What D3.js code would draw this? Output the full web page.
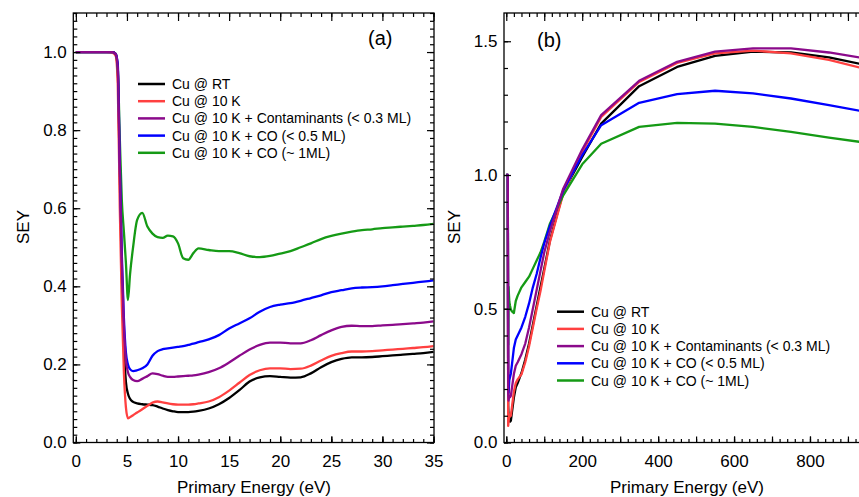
<!DOCTYPE html>
<html><head><meta charset="utf-8">
<script src="https://cdn.jsdelivr.net/npm/d3@7"></script>
<style>
body{margin:0;background:#fff;}
svg{display:block;font-family:"Liberation Sans",Arial,sans-serif;}
</style></head><body>
<svg id="chart" width="859" height="497"></svg>
<script>
// ---------- DATA ----------
const seriesNames = ["Cu @ RT", "Cu @ 10 K", "Cu @ 10 K + Contaminants (< 0.3 ML)", "Cu @ 10 K + CO (< 0.5 ML)", "Cu @ 10 K + CO (~ 1ML)"];
const seriesColors = ["#000000", "#ff4040", "#8b0a8b", "#0000ff", "#159a15"];

// Panel (a): low energy range (eV)
const energyA = [0, 1, 2, 3, 3.6, 3.9, 4.1, 4.3, 4.5, 4.7,
  4.9, 5.1, 5.3, 5.6, 6, 6.5, 7, 7.5, 8, 8.5,
  9, 9.5, 10, 10.5, 11, 11.5, 12, 13, 14, 15,
  16, 17, 18, 19, 20, 21, 22, 23, 24, 25,
  26, 27, 28, 29, 30, 31, 32, 33, 34, 35];
const cuRT_A = [1, 1, 1, 1, 1, 0.995, 0.95, 0.68, 0.43, 0.25,
  0.155, 0.125, 0.112, 0.104, 0.1, 0.098, 0.097, 0.096, 0.092, 0.087,
  0.083, 0.08, 0.078, 0.078, 0.078, 0.079, 0.081, 0.087, 0.098, 0.114,
  0.134, 0.156, 0.167, 0.17, 0.168, 0.166, 0.167, 0.177, 0.193, 0.206,
  0.214, 0.218, 0.218, 0.219, 0.221, 0.223, 0.225, 0.227, 0.229, 0.232];
const cu10K_A = [1, 1, 1, 1, 0.998, 0.99, 0.92, 0.6, 0.35, 0.18,
  0.09, 0.062, 0.065, 0.07, 0.077, 0.085, 0.094, 0.102, 0.105, 0.103,
  0.1, 0.098, 0.097, 0.097, 0.097, 0.098, 0.1, 0.105, 0.116, 0.133,
  0.153, 0.173, 0.185, 0.19, 0.19, 0.188, 0.189, 0.197, 0.21, 0.222,
  0.229, 0.233, 0.233, 0.234, 0.236, 0.238, 0.24, 0.242, 0.244, 0.247];
const cuCont_A = [1, 1, 1, 1, 1, 0.995, 0.96, 0.7, 0.46, 0.3,
  0.21, 0.18, 0.168, 0.16, 0.157, 0.163, 0.17, 0.177, 0.175, 0.171,
  0.168, 0.168, 0.169, 0.17, 0.171, 0.172, 0.174, 0.18, 0.19, 0.205,
  0.222, 0.238, 0.25, 0.256, 0.256, 0.254, 0.254, 0.262, 0.275, 0.287,
  0.296, 0.299, 0.298, 0.298, 0.3, 0.301, 0.303, 0.305, 0.307, 0.31];
const cuCO05_A = [1, 1, 1, 1, 1, 0.995, 0.97, 0.72, 0.48, 0.32,
  0.23, 0.2, 0.188, 0.183, 0.185, 0.19, 0.2, 0.222, 0.234, 0.239,
  0.241, 0.243, 0.245, 0.247, 0.25, 0.253, 0.257, 0.264, 0.275, 0.292,
  0.305, 0.318, 0.335, 0.347, 0.353, 0.357, 0.363, 0.37, 0.377, 0.385,
  0.39, 0.395, 0.397, 0.398, 0.4, 0.403, 0.406, 0.409, 0.412, 0.415];
const cuCO1_A = [1, 1, 1, 1, 1, 0.995, 0.96, 0.78, 0.62, 0.54,
  0.46, 0.365, 0.43, 0.5, 0.57, 0.588, 0.553, 0.535, 0.526, 0.524,
  0.53, 0.528, 0.51, 0.472, 0.468, 0.485, 0.497, 0.493, 0.49, 0.49,
  0.485, 0.477, 0.475, 0.478, 0.484, 0.49, 0.5, 0.51, 0.521, 0.529,
  0.535, 0.54, 0.544, 0.546, 0.549, 0.551, 0.553, 0.555, 0.557, 0.56];

// Panel (b): full energy range (eV)
const energyB = [0, 4, 5, 6, 8, 10, 12, 15, 20, 25, 30, 40, 50, 60, 70, 80, 90, 100, 115, 150,
  200, 250, 350, 450, 550, 650, 750, 850, 950];
const cuRT_B = [1, 1, 0.14, 0.1, 0.092, 0.078, 0.081, 0.114, 0.168, 0.206, 0.222, 0.26, 0.31, 0.37, 0.44, 0.51, 0.58, 0.65, 0.755, 0.936,
  1.067, 1.192, 1.332, 1.404, 1.445, 1.461, 1.458, 1.44, 1.41];
const cu10K_B = [1, 1, 0.062, 0.077, 0.105, 0.097, 0.1, 0.133, 0.19, 0.222, 0.236, 0.255, 0.3, 0.36, 0.43, 0.5, 0.565, 0.64, 0.75, 0.93,
  1.086, 1.217, 1.348, 1.419, 1.455, 1.465, 1.455, 1.43, 1.395];
const cuCont_B = [1, 1, 0.18, 0.157, 0.175, 0.169, 0.174, 0.205, 0.256, 0.287, 0.3, 0.33, 0.37, 0.43, 0.5, 0.57, 0.64, 0.71, 0.79, 0.949,
  1.095, 1.224, 1.352, 1.423, 1.461, 1.473, 1.473, 1.458, 1.435];
const cuCO05_B = [1, 1, 0.2, 0.185, 0.234, 0.245, 0.257, 0.292, 0.353, 0.385, 0.4, 0.43, 0.47, 0.52, 0.58, 0.63, 0.69, 0.745, 0.81, 0.942,
  1.074, 1.186, 1.27, 1.302, 1.315, 1.305, 1.286, 1.261, 1.235];
const cuCO1_B = [1, 1, 0.365, 0.582, 0.526, 0.51, 0.497, 0.49, 0.484, 0.529, 0.549, 0.58, 0.6, 0.62, 0.65, 0.68, 0.71, 0.75, 0.818, 0.924,
  1.04, 1.117, 1.18, 1.195, 1.192, 1.18, 1.161, 1.14, 1.12];

// Tick labels
const xTicksA = [0, 5, 10, 15, 20, 25, 30, 35];
const yTicksA = [0.0, 0.2, 0.4, 0.6, 0.8, 1.0];
const xTicksB = [0, 200, 400, 600, 800];
const yTicksB = [0.0, 0.5, 1.0, 1.5];
const xTitle = "Primary Energy (eV)";
const yTitle = "SEY";

// ---------- DRAW ----------
const svg = d3.select("#chart");
const fmt1 = d3.format(".1f");
const drawOrder = [0, 1, 4, 3, 2];

function drawPanel(p) {
  const g = svg.append("g");
  const x = d3.scaleLinear().domain(p.xDomain).range([p.left, p.right]);
  const y = d3.scaleLinear().domain(p.yDomain).range([p.bottom, p.top]);
  const clipId = "clip" + p.id;
  svg.append("clipPath").attr("id", clipId).append("rect")
    .attr("x", p.left).attr("y", p.top)
    .attr("width", p.right - p.left).attr("height", p.bottom - p.top);

  const line = d3.line().x((d, i) => x(p.energies[i])).y(d => y(d)).curve(p.curve);
  drawOrder.forEach(k => {
    g.append("path").attr("d", line(p.values[k]))
      .attr("fill", "none").attr("stroke", seriesColors[k])
      .attr("stroke-width", 2.3).attr("stroke-linejoin", "round")
      .attr("clip-path", `url(#${clipId})`);
  });

  function axis(gen, tx, ty, vals, size, labels, pad) {
    const a = g.append("g").attr("transform", `translate(${tx},${ty})`)
      .call(gen.tickValues(vals).tickSize(size).tickPadding(pad || 3)
        .tickFormat(labels ? labels : () => ""));
    a.select(".domain").remove();
    a.selectAll("line").attr("stroke", "#000").attr("stroke-width", 1.2);
    a.attr("font-family", null).attr("font-size", null);
    a.selectAll("text").attr("fill", "#000").style("font-size", "17px");
    return a;
  }
  // bottom
  axis(d3.axisBottom(x), 0, p.bottom, p.xMinor, -3.5);
  axis(d3.axisBottom(x), 0, p.bottom, p.xMid, -6);
  axis(d3.axisBottom(x), 0, p.bottom, p.xMajor, -6, p.xFmt, 12);
  // top
  axis(d3.axisTop(x), 0, p.top, p.xMinor, -4);
  axis(d3.axisTop(x), 0, p.top, p.xMid, -8);
  // left
  axis(d3.axisLeft(y), p.left, 0, p.yMinor, -4);
  axis(d3.axisLeft(y), p.left, 0, p.yMajor, -7, fmt1, 6.5);
  // right
  axis(d3.axisRight(y), p.right, 0, p.yMinor, -4);
  axis(d3.axisRight(y), p.right, 0, p.yMajor, -7);

  g.append("rect").attr("x", p.left).attr("y", p.top)
    .attr("width", p.right - p.left).attr("height", p.bottom - p.top)
    .attr("fill", "none").attr("stroke", "#000").attr("stroke-width", 1.3);

  // titles
  g.append("text").attr("x", p.xTitleX).attr("y", 493).attr("text-anchor", "middle")
    .style("font-size", "17px").text(xTitle);
  g.append("text").attr("transform", `translate(${p.yTitleX},227) rotate(-90)`)
    .attr("text-anchor", "middle").style("font-size", "17px").text(yTitle);
  g.append("text").attr("x", p.tagX).attr("y", p.tagY)
    .style("font-size", "20px").text(p.tag);

  // legend
  seriesNames.forEach((name, k) => {
    const ly = p.legY + k * 17.2;
    g.append("line").attr("x1", p.legX).attr("x2", p.legX + 27)
      .attr("y1", ly).attr("y2", ly)
      .attr("stroke", seriesColors[k]).attr("stroke-width", 2.5);
    g.append("text").attr("x", p.legX + 34).attr("y", ly + 5)
      .style("font-size", "14px").text(name);
  });
}

drawPanel({
  id: "a", left: 73.3, right: 434, top: 13, bottom: 442.5,
  xDomain: [-0.25, 35.05], yDomain: [0, 1.1],
  energies: energyA,
  values: [cuRT_A, cu10K_A, cuCont_A, cuCO05_A, cuCO1_A],
  curve: d3.curveMonotoneX,
  xMajor: xTicksA, xMid: xTicksA, xMinor: d3.range(0, 35.01, 1), xFmt: d3.format("d"),
  yMajor: yTicksA, yMinor: d3.range(0, 1.101, 0.02),
  xTitleX: 254, yTitleX: 28.5, tag: "(a)", tagX: 368, tagY: 45,
  legX: 138, legY: 84
});

drawPanel({
  id: "b", left: 504, right: 885.9, top: 13, bottom: 442.5,
  xDomain: [-6, 1000], yDomain: [0, 1.6056],
  energies: energyB,
  values: [cuRT_B, cu10K_B, cuCont_B, cuCO05_B, cuCO1_B],
  curve: d3.curveLinear,
  xMajor: xTicksB, xMid: d3.range(0, 1000.1, 100), xMinor: d3.range(0, 1000.1, 20), xFmt: d3.format("d"),
  yMajor: yTicksB, yMinor: d3.range(0, 1.6, 0.1),
  xTitleX: 687, yTitleX: 460, tag: "(b)", tagX: 537, tagY: 47,
  legX: 557, legY: 311.7
});
</script>
</body></html>
